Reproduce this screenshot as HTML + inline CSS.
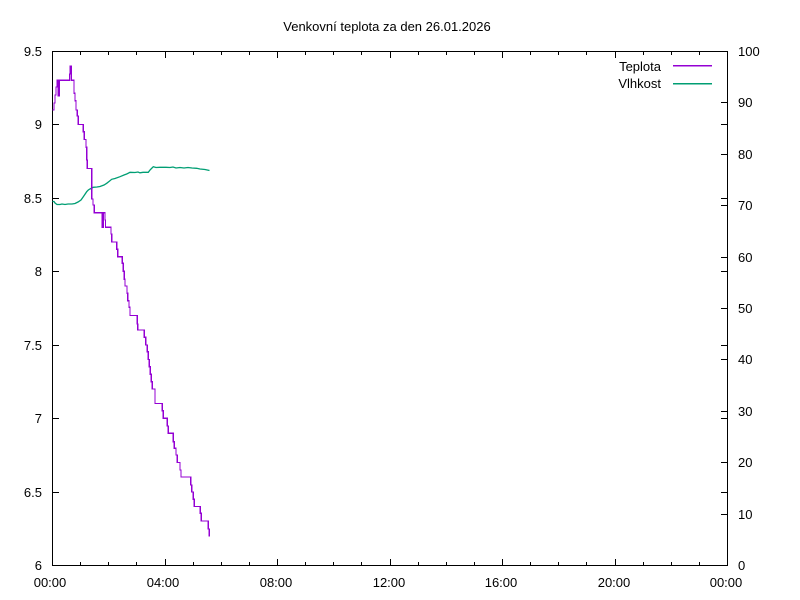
<!DOCTYPE html>
<html>
<head>
<meta charset="utf-8">
<style>
html,body{margin:0;padding:0;background:#fff;}
svg{display:block;}
text{font-family:"Liberation Sans",Arial,sans-serif;font-size:13px;fill:#000;}
</style>
</head>
<body>
<svg width="800" height="600" viewBox="0 0 800 600" xmlns="http://www.w3.org/2000/svg">
<rect width="800" height="600" fill="#fff"/>
<text x="387" y="31" text-anchor="middle">Venkovní teplota za den 26.01.2026</text>

<g stroke="#000" stroke-width="1" fill="none" shape-rendering="crispEdges">
<rect x="52.5" y="51.5" width="675" height="514"/>
<path d="M52.5,565.5h6.5M52.5,492.5h6.5M52.5,418.5h6.5M52.5,345.5h6.5M52.5,271.5h6.5M52.5,198.5h6.5M52.5,124.5h6.5M52.5,51.5h6.5"/>
<path d="M727.5,565.5h-6.5M727.5,492.5h-6.5M727.5,418.5h-6.5M727.5,345.5h-6.5M727.5,271.5h-6.5M727.5,198.5h-6.5M727.5,124.5h-6.5M727.5,51.5h-6.5"/>
<path d="M727.5,514.5h-6.5M727.5,462.5h-6.5M727.5,411.5h-6.5M727.5,359.5h-6.5M727.5,308.5h-6.5M727.5,257.5h-6.5M727.5,205.5h-6.5M727.5,154.5h-6.5M727.5,102.5h-6.5"/>
<path d="M165.5,565.5v-6.5M277.5,565.5v-6.5M390.5,565.5v-6.5M502.5,565.5v-6.5M615.5,565.5v-6.5"/>
<path d="M165.5,51.5v6.5M277.5,51.5v6.5M390.5,51.5v6.5M502.5,51.5v6.5M615.5,51.5v6.5"/>
<path d="M80.5,565.5v-3.5M108.5,565.5v-3.5M136.5,565.5v-3.5M193.5,565.5v-3.5M221.5,565.5v-3.5M249.5,565.5v-3.5M305.5,565.5v-3.5M333.5,565.5v-3.5M361.5,565.5v-3.5M418.5,565.5v-3.5M446.5,565.5v-3.5M474.5,565.5v-3.5M530.5,565.5v-3.5M558.5,565.5v-3.5M586.5,565.5v-3.5M643.5,565.5v-3.5M671.5,565.5v-3.5M699.5,565.5v-3.5"/>
<path d="M80.5,51.5v3.5M108.5,51.5v3.5M136.5,51.5v3.5M193.5,51.5v3.5M221.5,51.5v3.5M249.5,51.5v3.5M305.5,51.5v3.5M333.5,51.5v3.5M361.5,51.5v3.5M418.5,51.5v3.5M446.5,51.5v3.5M474.5,51.5v3.5M530.5,51.5v3.5M558.5,51.5v3.5M586.5,51.5v3.5M643.5,51.5v3.5M671.5,51.5v3.5M699.5,51.5v3.5"/>
</g>

<g text-anchor="end">
<text x="42" y="570">6</text>
<text x="42" y="497">6.5</text>
<text x="42" y="423">7</text>
<text x="42" y="350">7.5</text>
<text x="42" y="276">8</text>
<text x="42" y="203">8.5</text>
<text x="42" y="129">9</text>
<text x="42" y="56">9.5</text>
</g>
<g text-anchor="start">
<text x="738" y="570">0</text>
<text x="738" y="519">10</text>
<text x="738" y="467">20</text>
<text x="738" y="416">30</text>
<text x="738" y="364">40</text>
<text x="738" y="313">50</text>
<text x="738" y="262">60</text>
<text x="738" y="210">70</text>
<text x="738" y="159">80</text>
<text x="738" y="107">90</text>
<text x="738" y="56">100</text>
</g>
<g text-anchor="middle">
<text x="50" y="587">00:00</text>
<text x="163" y="587">04:00</text>
<text x="276" y="587">08:00</text>
<text x="389" y="587">12:00</text>
<text x="501" y="587">16:00</text>
<text x="614" y="587">20:00</text>
<text x="726" y="587">00:00</text>
</g>

<text x="661" y="71" text-anchor="end">Teplota</text>
<text x="661" y="88" text-anchor="end">Vlhkost</text>
<g shape-rendering="crispEdges">
<rect x="673" y="65" width="39" height="1.3" fill="#9400d3"/>
<rect x="673" y="83" width="39" height="1.3" fill="#009e73"/>
</g>

<path fill="none" stroke="#009e73" stroke-width="1.3" d="M52.5,201.5 L54,201.5 L55,203 L57,204.5 L60,204.5 L62,204 L65,204.5 L68,204 L72,204 L75,203.5 L78,202 L81,200 L83.3,196.7 L86.7,191.7 L88.3,190 L90,189 L93.3,187.3 L97,187 L100,186.5 L104,185 L106.7,183.3 L109,181.5 L111.7,179.3 L115,178.5 L120,176.7 L124,175 L126.7,174 L130,172.3 L135,172.5 L138,172 L140,172.8 L143,172.3 L148.3,172.3 L150,170 L151.5,168.5 L153.3,166.7 L156,167.5 L160,167.3 L166,167.3 L170,167.5 L173,167 L176,168 L180,167.5 L184,168 L188,167.5 L192,168 L196.7,168.3 L200,169 L205,169.5 L209.5,170.5"/>

<path fill="none" stroke="#9400d3" stroke-width="1.3" shape-rendering="crispEdges" d="M52.5,110 L54,110 L54,103 L55,103 L55,95 L56,95 L56,87 L57.3,87 L57.3,80.3 L58.3,80.3 L58.3,96 L59.3,96 L59.3,80.3 L69.5,80.3 L69.5,74 L70.3,74 L70.3,66 L71.3,66 L71.3,80.3 L74,80.3 L74,93.3 L75,93.3 L75,100.7 L76,100.7 L76,110 L77.3,110 L77.3,116 L78.3,116 L78.3,124.4 L83.3,124.4 L83.3,131.7 L84.3,131.7 L84.3,139.5 L86,139.5 L86,147.3 L86.8,147.3 L86.8,160 L87.3,160 L87.3,168.5 L91.7,168.5 L91.7,199 L93,199 L93,205 L94.3,205 L94.3,212.7 L102.3,212.7 L102.3,227.3 L103.5,227.3 L103.5,212.7 L105,212.7 L105,220 L105.5,220 L105.5,227.3 L111,227.3 L111,234 L111.7,234 L111.7,241.9 L116.7,241.9 L116.7,249.3 L117.7,249.3 L117.7,256.6 L122.3,256.6 L122.3,263.3 L123.3,263.3 L123.3,271.3 L124.3,271.3 L124.3,279.3 L125,279.3 L125,286 L127,286 L127,293.3 L127.7,293.3 L127.7,300.7 L129,300.7 L129,307.3 L130,307.3 L130,315.4 L137.3,315.4 L137.3,324 L137.7,324 L137.7,330 L144.3,330 L144.3,337.3 L145.7,337.3 L145.7,345 L147.3,345 L147.3,351.7 L148.3,351.7 L148.3,359.4 L149.3,359.4 L149.3,366.7 L150.3,366.7 L150.3,374.1 L151.3,374.1 L151.3,381.7 L152.3,381.7 L152.3,389 L155,389 L155,403.5 L162.3,403.5 L162.3,410.7 L163.3,410.7 L163.3,418.2 L167.3,418.2 L167.3,426 L168.3,426 L168.3,433.3 L173.3,433.3 L173.3,441.7 L174.3,441.7 L174.3,448.3 L176,448.3 L176,455 L177.3,455 L177.3,462.5 L180,462.5 L180,470 L181,470 L181,477 L190.7,477 L190.7,485 L191.7,485 L191.7,492 L193.3,492 L193.3,499.3 L194.3,499.3 L194.3,506.5 L200.3,506.5 L200.3,513.3 L201.3,513.3 L201.3,521 L208.3,521 L208.3,529 L209.3,529 L209.3,536.7"/>
</svg>
</body>
</html>
